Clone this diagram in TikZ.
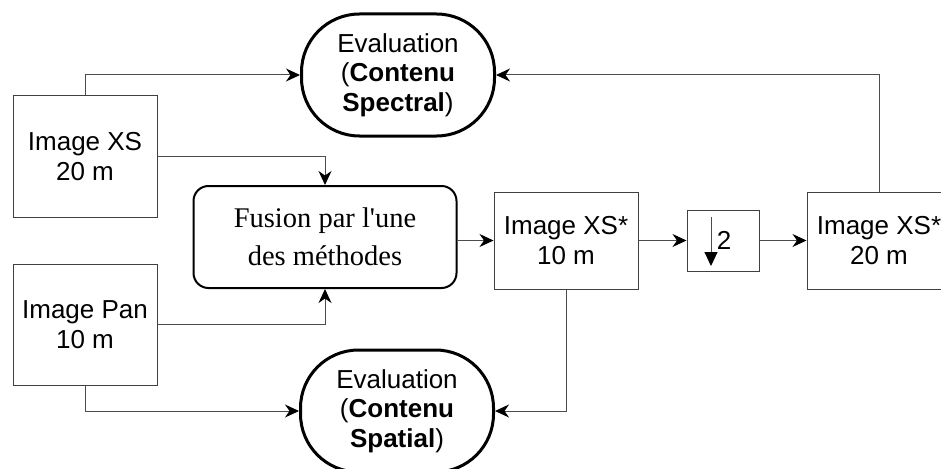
\documentclass[tikz,border=0pt]{standalone}
\usepackage{fontspec}
\setmainfont{Liberation Sans}
\newfontfamily\timesfont{Liberation Serif}
\usetikzlibrary{arrows.meta}
\tikzset{
  conn/.style={draw=black!70, line width=1pt,
    -{Stealth[length=14pt,width=13pt,inset=4.5pt,fill=black,color=black]}},
  imgbox/.style={draw=black!75, line width=1pt, align=center,
    font=\fontsize{26}{30}\selectfont, inner sep=0pt},
  evalbox/.style={draw=black, line width=3pt, rounded corners=58pt,
    align=center, font=\fontsize{26}{29.5}\selectfont, inner sep=0pt,
    minimum width=193pt, minimum height=122pt},
  fusebox/.style={draw=black, line width=2pt, rounded corners=15pt,
    align=center, font=\timesfont\fontsize{28.5}{38}\selectfont, inner sep=0pt,
    minimum width=263pt, minimum height=102pt},
}
\begin{document}
\begin{tikzpicture}[x=1pt,y=-1pt]
\useasboundingbox (0,0) rectangle (941,468);
\clip (0,0) rectangle (941,468);

% input images
\node[imgbox, minimum width=144pt, minimum height=121pt] (xs) at (85,156.5) {Image XS\\20 m};
\node[imgbox, minimum width=144pt, minimum height=121pt] (pan) at (85,324.5) {Image Pan\\10 m};

% evaluation blocks
\node[evalbox] (evs) at (398,75) {Evaluation\\(\textbf{Contenu}\\\textbf{Spectral})};
\node[evalbox] (evp) at (397,411) {Evaluation\\(\textbf{Contenu}\\\textbf{Spatial})};

% fusion step
\node[fusebox] (fus) at (325,237) {Fusion par l'une\\des méthodes};

% fused image, decimation, fused image at 20 m
\node[imgbox, minimum width=144pt, minimum height=97pt] (xs10) at (566,240.5) {Image XS*\\10 m};
\node[draw=black!75, line width=1pt, minimum width=72pt, minimum height=61pt, inner sep=0pt] (ds) at (723,240.5) {};
\node[imgbox, minimum width=144pt, minimum height=97pt] (xs20) at (879,240.5) {Image XS*\\20 m};

% decimation symbol
\coordinate (dtop) at (711,217);
\coordinate (dbot) at (711,266);
\draw[draw=black!70, line width=1pt, -{Triangle[length=14pt,width=13pt,color=black,fill=black]}] (dtop) -- (dbot);
\node[font=\fontsize{26}{30}\selectfont, inner sep=0pt] (two) at (724,240) {2};

% connectors
\draw[conn] (xs.north) |- (evs.west);
\draw[conn] (xs.east) -| (fus.north);
\draw[conn] (pan.east) -| (fus.south);
\draw[conn] (pan.south) |- (evp.west);
\draw[conn] (fus.east |- xs10.west) -- (xs10.west);
\draw[conn] (xs10.east) -- (ds.west);
\draw[conn] (ds.east) -- (xs20.west);
\draw[conn] (xs20.north) |- (evs.east);
\draw[conn] (xs10.south) |- (evp.east);
\end{tikzpicture}
\end{document}
